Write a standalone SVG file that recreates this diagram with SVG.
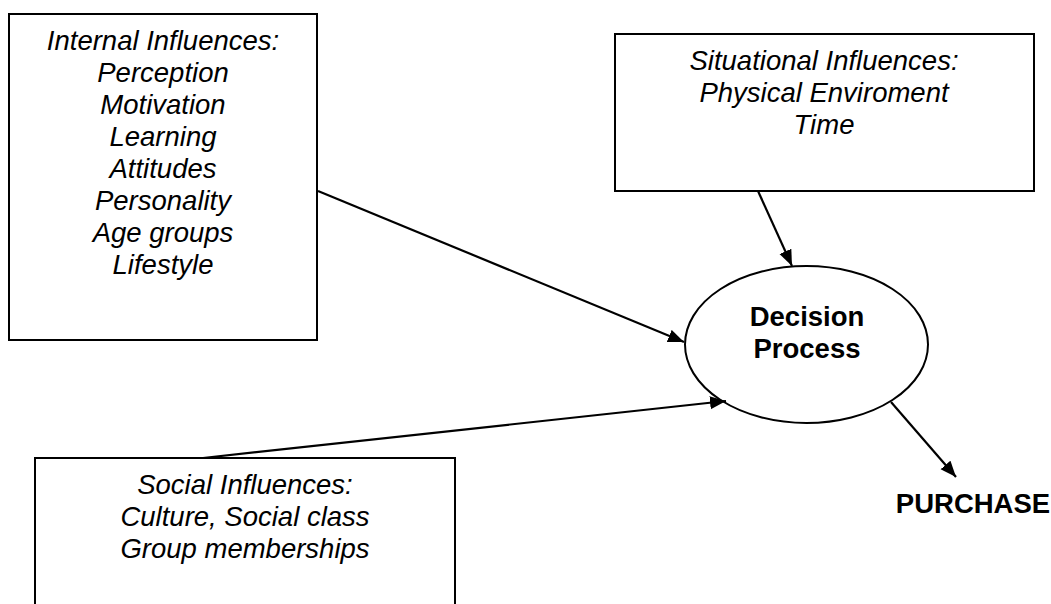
<svg xmlns="http://www.w3.org/2000/svg" width="1051" height="604" viewBox="0 0 1051 604">
<defs>
<style>
.box{fill:#fff;stroke:#000;stroke-width:2}
.it{font-family:"Liberation Sans",Arial,sans-serif;font-style:italic;font-size:27.5px;fill:#000;text-anchor:middle}
.bd{font-family:"Liberation Sans",Arial,sans-serif;font-weight:bold;font-size:27.5px;fill:#000;text-anchor:middle}
.con{stroke:#000;stroke-width:2.2;fill:none;marker-end:url(#ah)}
</style>
<marker id="ah" markerUnits="userSpaceOnUse" markerWidth="18" markerHeight="14" refX="16" refY="6.5" orient="auto">
<path d="M0,0 L16,6.5 L0,13 z" fill="#000"/>
</marker>
</defs>
<rect width="1051" height="604" fill="#fff"/>
<g id="internal">
<rect class="box" x="9" y="14" width="308" height="326"/>
<text class="it" x="163" y="50">Internal Influences:</text>
<text class="it" x="163" y="82">Perception</text>
<text class="it" x="163" y="114">Motivation</text>
<text class="it" x="163" y="146">Learning</text>
<text class="it" x="163" y="178">Attitudes</text>
<text class="it" x="163" y="210">Personality</text>
<text class="it" x="163" y="242">Age groups</text>
<text class="it" x="163" y="274">Lifestyle</text>
</g>
<g id="situational">
<rect class="box" x="615" y="34" width="419" height="157"/>
<text class="it" x="824" y="70">Situational Influences:</text>
<text class="it" x="824" y="102">Physical Enviroment</text>
<text class="it" x="824" y="134">Time</text>
</g>
<g id="social">
<rect class="box" x="35" y="458" width="420" height="170"/>
<text class="it" x="245" y="494">Social Influences:</text>
<text class="it" x="245" y="526">Culture, Social class</text>
<text class="it" x="245" y="558">Group memberships</text>
</g>
<g id="decision">
<ellipse class="box" cx="806.5" cy="344.5" rx="121.5" ry="78.5"/>
<text class="bd" x="807" y="326">Decision</text>
<text class="bd" x="807" y="358">Process</text>
</g>
<g id="purchase">
<text class="bd" x="973" y="513">PURCHASE</text>
</g>
<g id="connectors">
<line class="con" x1="318" y1="191" x2="684" y2="342"/>
<line class="con" x1="203" y1="458" x2="726" y2="401"/>
<line class="con" x1="758" y1="191" x2="792" y2="266"/>
<line class="con" x1="891" y1="402" x2="956" y2="477"/>
</g>
</svg>
